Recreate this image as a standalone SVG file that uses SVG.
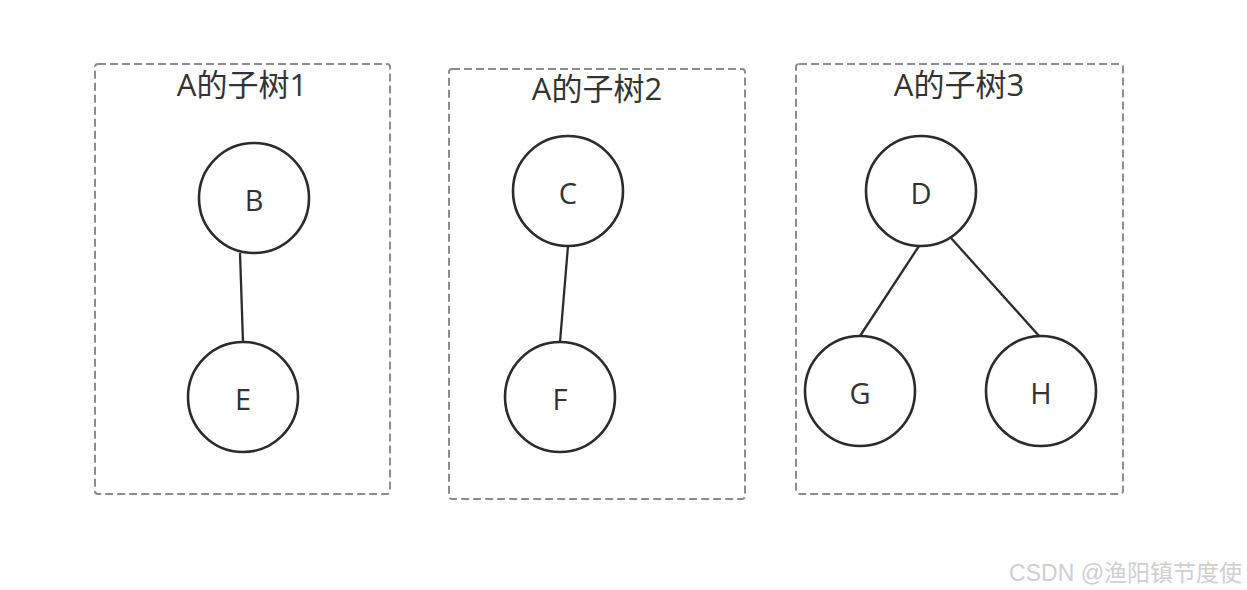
<svg xmlns="http://www.w3.org/2000/svg" width="1247" height="590" viewBox="0 0 1247 590">
<style>
.box{fill:none;stroke:#8c8c8c;stroke-width:2;stroke-dasharray:8 4}
.title{font-family:"Open Sans","Noto Sans CJK SC",sans-serif;font-size:31px;fill:#333;text-anchor:middle}
.node circle{fill:#fff;stroke:#2b2b2b;stroke-width:2.6}
.node text{font-family:"Open Sans","Noto Sans",sans-serif;font-size:29px;fill:#333;text-anchor:middle;dominant-baseline:central}
.edge{stroke:#2b2b2b;stroke-width:2.3;fill:none}
.wm{font-family:"Liberation Sans","Noto Sans CJK SC",sans-serif;font-size:23px;fill:#cfcfcf;text-anchor:end}
</style>
<rect width="1247" height="590" fill="#fff"/>
<g id="group1">
<rect class="box" x="95" y="64" width="295" height="430" rx="3"/>
<text class="title" x="242" y="96">A的子树1</text>
</g>
<g id="group2">
<rect class="box" x="449" y="69" width="296" height="430" rx="3"/>
<text class="title" x="597" y="100">A的子树2</text>
</g>
<g id="group3">
<rect class="box" x="796" y="64" width="327" height="430" rx="3"/>
<text class="title" x="959" y="96">A的子树3</text>
</g>
<g id="connectors">
<line class="edge" x1="240" y1="253" x2="243" y2="342"/>
<line class="edge" x1="568" y1="246" x2="560" y2="342"/>
<line class="edge" x1="919" y1="246" x2="860" y2="336"/>
<line class="edge" x1="951" y1="238" x2="1040" y2="337"/>
</g>
<g id="node-B" class="node"><circle cx="254" cy="198" r="55"/><text x="254" y="199">B</text></g>
<g id="node-E" class="node"><circle cx="243" cy="397" r="55"/><text x="243" y="398">E</text></g>
<g id="node-C" class="node"><circle cx="568" cy="191" r="55"/><text x="568" y="192">C</text></g>
<g id="node-F" class="node"><circle cx="560" cy="397" r="55"/><text x="560" y="398">F</text></g>
<g id="node-D" class="node"><circle cx="921" cy="191" r="55"/><text x="921" y="192">D</text></g>
<g id="node-G" class="node"><circle cx="860" cy="391" r="55"/><text x="860" y="392">G</text></g>
<g id="node-H" class="node"><circle cx="1041" cy="391" r="55"/><text x="1041" y="392">H</text></g>
<text class="wm" x="1242" y="581">CSDN @渔阳镇节度使</text>
</svg>
